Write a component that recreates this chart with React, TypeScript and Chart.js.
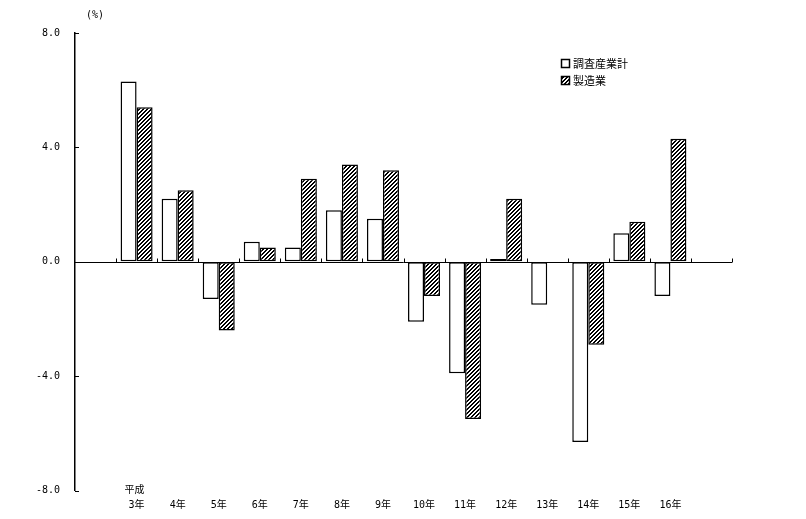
import React, { useEffect, useRef } from 'react';
import { Chart, registerables } from 'chart.js';

Chart.register(...registerables);

// ---- data ----
const categories = ['3年', '4年', '5年', '6年', '7年', '8年', '9年', '10年', '11年', '12年', '13年', '14年', '15年', '16年'];
const eraLabel = '平成';
const seriesNames = ['調査産業計', '製造業'];
const totalIndustries = [6.3, 2.2, -1.3, 0.7, 0.5, 1.8, 1.5, -2.1, -3.9, 0.1, -1.5, -6.3, 1.0, -1.2];
const manufacturing = [5.4, 2.5, -2.4, 0.5, 2.9, 3.4, 3.2, -1.2, -5.5, 2.2, null, -2.9, 1.4, 4.3];
const yTicks = [-8, -4, 0, 4, 8];
const unitLabel = '(%)';

const MONO = '"DejaVu Sans Mono", "Noto Sans CJK JP", monospace';
const JP = '"Noto Sans CJK JP", sans-serif';

function makeHatch(): CanvasPattern | string {
  const n = 4;
  const c = document.createElement('canvas');
  c.width = n;
  c.height = n;
  const g = c.getContext('2d');
  if (!g) return '#888';
  g.fillStyle = '#fff';
  g.fillRect(0, 0, n, n);
  g.fillStyle = '#000';
  for (let r = 0; r < n; r++) {
    g.fillRect((n - 1 - r + n) % n, r, 1, 1);
    g.fillRect((n - r) % n, r, 1, 1);
  }
  return g.createPattern(c, 'repeat') || '#888';
}

export default function App() {
  const ref = useRef<HTMLCanvasElement | null>(null);

  useEffect(() => {
    if (!ref.current) return;
    const hatch = makeHatch();
    const labels = ['', ...categories, ''];
    const pad = (arr: (number | null)[]) => [null, ...arr, null];

    const decor = {
      id: 'decor',
      afterDatasetsDraw(chart: any) {
        const ctx = chart.ctx;
        const x = chart.scales.x;
        const y = chart.scales.y;
        const area = chart.chartArea;
        const y0 = Math.round(y.getPixelForValue(0)) + 0.5;
        ctx.save();
        ctx.strokeStyle = '#000';
        ctx.lineWidth = 1;
        // zero line
        ctx.beginPath();
        ctx.moveTo(area.left, y0);
        ctx.lineTo(area.right, y0);
        ctx.stroke();
        // category boundary ticks
        const step = x.getPixelForValue(1) - x.getPixelForValue(0);
        ctx.beginPath();
        for (let i = 1; i <= labels.length; i++) {
          const bx = Math.round(x.getPixelForValue(i) - step / 2) + 0.5;
          ctx.moveTo(bx, y0);
          ctx.lineTo(bx, y0 - 4);
        }
        ctx.stroke();
        // y ticks (inside)
        ctx.beginPath();
        yTicks.forEach((v) => {
          const py = Math.round(y.getPixelForValue(v)) + 0.5;
          ctx.moveTo(area.left, py);
          ctx.lineTo(area.left + 4, py);
        });
        ctx.stroke();
        // unit label
        ctx.fillStyle = '#000';
        ctx.font = `10px ${MONO}`;
        ctx.textAlign = 'left';
        ctx.textBaseline = 'middle';
        ctx.fillText(unitLabel, 86, 15);
        // era label above first category
        ctx.textAlign = 'center';
        ctx.fillText(eraLabel, x.getPixelForValue(1) - 2, 490);
        // legend
        ctx.font = `11px ${JP}`;
        ctx.textAlign = 'left';
        chart.data.datasets.forEach((ds: any, i: number) => {
          const by = 59 + i * 17;
          ctx.fillStyle = ds.backgroundColor;
          ctx.fillRect(561, by, 8, 8);
          ctx.lineWidth = 1.5;
          ctx.strokeRect(561.5, by + 0.5, 8, 8);
          ctx.fillStyle = '#000';
          ctx.fillText(ds.label, 573, by + 4.5);
        });
        ctx.restore();
      },
    };

    const chart = new Chart(ref.current, {
      type: 'bar',
      data: {
        labels,
        datasets: [
          {
            label: seriesNames[0],
            data: pad(totalIndustries),
            backgroundColor: '#fff',
            borderColor: '#000',
            borderWidth: 1.5,
            borderSkipped: false,
            categoryPercentage: 0.78,
            barPercentage: 1,
          },
          {
            label: seriesNames[1],
            data: pad(manufacturing),
            backgroundColor: hatch as any,
            borderColor: '#000',
            borderWidth: 1.5,
            borderSkipped: false,
            categoryPercentage: 0.78,
            barPercentage: 1,
          },
        ],
      },
      options: {
        responsive: false,
        animation: false,
        layout: { padding: { top: 33, right: 74, left: 0, bottom: 0 } },
        plugins: {
          legend: { display: false },
          tooltip: { enabled: false },
        },
        scales: {
          x: {
            type: 'category',
            offset: true,
            grid: { display: false, drawTicks: false },
            border: { display: false },
            ticks: {
              color: '#000',
              font: { family: MONO, size: 10 },
              padding: 9,
              maxRotation: 0,
              autoSkip: false,
            },
            afterFit: (s: any) => {
              s.height = 28.5;
            },
          },
          y: {
            min: -8,
            max: 8,
            grid: { display: true, drawOnChartArea: false, drawTicks: false },
            border: { display: true, color: '#000', width: 1.5 },
            ticks: {
              color: '#000',
              font: { family: MONO, size: 10 },
              padding: 15,
              callback: (v: any) => Number(v).toFixed(1),
            },
            afterBuildTicks: (s: any) => {
              s.ticks = yTicks.map((v) => ({ value: v }));
            },
            afterFit: (s: any) => {
              s.width = 75;
            },
          },
        },
      },
      plugins: [decor],
    } as any);

    return () => chart.destroy();
  }, []);

  return (
    <div style={{ position: 'absolute', left: 0, top: 0, width: 806, height: 519, background: '#fff' }}>
      <canvas ref={ref} width={806} height={519} />
    </div>
  );
}
